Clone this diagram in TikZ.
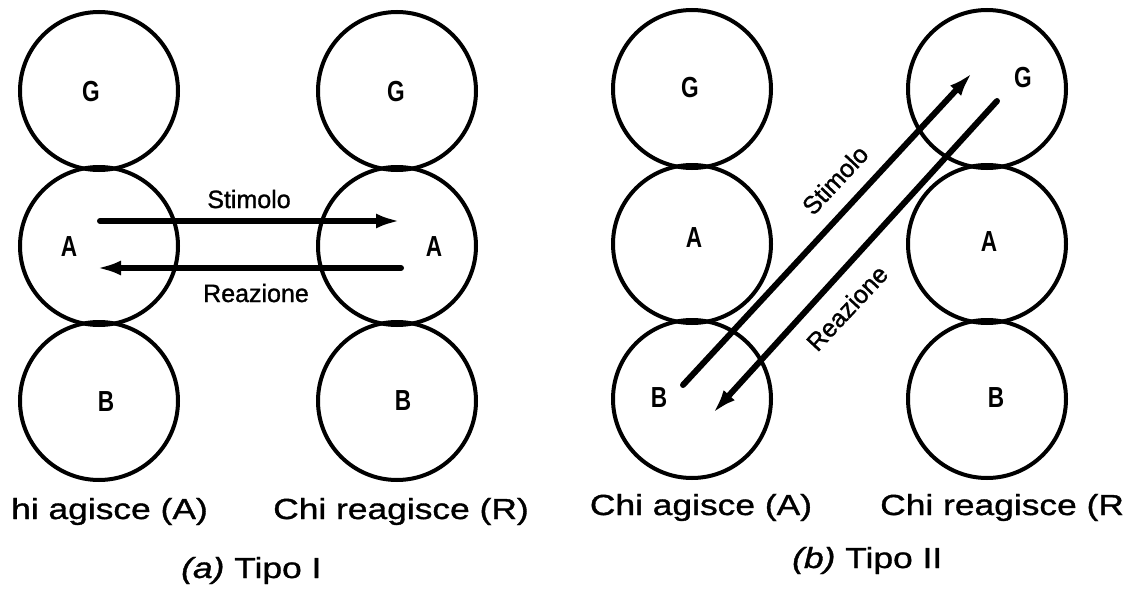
\documentclass[tikz,border=0pt]{standalone}
\usepackage{fontspec}
\setmainfont{Liberation Sans}
\newfontfamily\widefont[FakeStretch=1.22, FakeBold=1.2]{Liberation Sans}
\newfontfamily\markfont[FakeBold=1.2]{Liberation Sans}
\newfontfamily\lettfont[FakeStretch=0.78]{Liberation Sans}
\usetikzlibrary{positioning, arrows.meta}

\begin{document}
\begin{tikzpicture}[x=1pt, y=-1pt, node distance = 155pt, on grid,
		ring/.style={circle, draw=black, line width=4pt, minimum size=158pt, inner sep=0pt},
		lett/.style={font=\lettfont\bfseries\fontsize{29}{29}\selectfont, inner sep=0pt},
		arrowtext/.style={font=\markfont\fontsize{25}{25}\selectfont, inner sep=0pt},
		who/.style={font=\widefont\fontsize{29}{29}\selectfont, inner sep=0pt},
		flow/.style={line width=6pt, line cap=round, -{Latex[length=24pt, width=15pt]}}]
			\useasboundingbox (0,0) rectangle (1141,589);
			% (a) Tipo I
			\node [ring] (AGTOPA) at (99,91) {};
			\node [ring] (AGMIDA) [below =of AGTOPA] {};
			\node [ring] (AGBOTA) [below =of AGMIDA] {};
			\node [ring] (RETOPA) at (397,91) {};
			\node [ring] (REMIDA) [below =of RETOPA] {};
			\node [ring] (REBOTA) [below =of REMIDA] {};
			% (b) Tipo II
			\node [ring] (AGTOPB) at (692,89) {};
			\node [ring] (AGMIDB) [below =of AGTOPB] {};
			\node [ring] (AGBOTB) [below =of AGMIDB] {};
			\node [ring] (RETOPB) at (987,89) {};
			\node [ring] (REMIDB) [below =of RETOPB] {};
			\node [ring] (REBOTB) [below =of REMIDB] {};
			% letters
			\node [lett] (LAGTOPA) at (91,92) {G};
			\node [lett] (LAGMIDA) at (69,247) {A};
			\node [lett] (LAGBOTA) at (106,402) {B};
			\node [lett] (LRETOPA) at (396,92) {G};
			\node [lett] (LREMIDA) at (434,247) {A};
			\node [lett] (LREBOTA) at (403,401) {B};
			\node [lett] (LAGTOPB) at (690,88) {G};
			\node [lett] (LAGMIDB) at (694,238) {A};
			\node [lett] (LAGBOTB) at (659,398) {B};
			\node [lett] (LRETOPB) at (1023,78) {G};
			\node [lett] (LREMIDB) at (989,242) {A};
			\node [lett] (LREBOTB) at (996,398) {B};
			% arrows
			\draw [flow] ([shift={(1,-25)}]AGMIDA.center) -- ([shift={(3,-25)}]REMIDA.center);
			\draw [flow] ([shift={(4,22)}]REMIDA.center) -- ([shift={(-2,22)}]AGMIDA.center);
			\draw [flow] ([shift={(-9,-14)}]AGBOTB.center) -- ([shift={(-15,-16)}]RETOPB.center);
			\draw [flow] ([shift={(10,12)}]RETOPB.center) -- ([shift={(21,14)}]AGBOTB.center);
			\node [arrowtext, anchor=base] (STIMA) at (249,208) {Stimolo};
			\node [arrowtext, anchor=base] (REAZA) at (256,302) {Reazione};
			\node [arrowtext, rotate=47] (STIMB) at (835,180) {Stimolo};
			\node [arrowtext, rotate=47] (REAZB) at (847,308) {Reazione};
			% captions
			\node [who, anchor=base west] (WHOAGA) at (11,519) {hi agisce (A)};
			\node [who, anchor=base] (WHOREA) at (401,519) {Chi reagisce (R)};
			\node [who, anchor=base] (WHOAGB) at (701,515) {Chi agisce (A)};
			\node [who, anchor=base west] (WHOREB) at (880,515) {Chi reagisce (R};
			\node [who, anchor=base west] (CAPA) at (181,578) {\itshape (a)\upshape\ Tipo I};
			\node [who, anchor=base west] (CAPB) at (792,568) {\itshape (b)\upshape\ Tipo II};
		\end{tikzpicture}
\end{document}
